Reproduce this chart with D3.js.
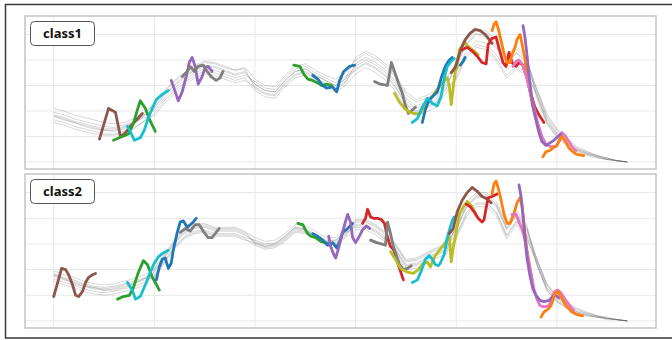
<!DOCTYPE html>
<html>
<head>
<meta charset="utf-8">
<script src="https://cdn.jsdelivr.net/npm/d3@7"></script>
<style>
  body { margin: 0; background: #fff; }
  text { font-family: "Noto Sans", "DejaVu Sans", sans-serif; }
</style>
</head>
<body>
<svg id="chart" width="672" height="340"></svg>
<script>
// Sample positions shared by every background series (one value every 10 steps).
const steps = d3.range(0, 580, 10);

// ---- class1 background series ----
const c1a = [0.36,0.34,0.31,0.29,0.27,0.25,0.25,0.27,0.30,0.36, 0.42,0.52,0.60,0.66,0.72,0.75,0.74,0.71,0.68,0.70, 0.61,0.56,0.55,0.64,0.71,0.73,0.68,0.64,0.60,0.65, 0.75,0.80,0.76,0.70,0.61,0.48,0.42,0.45,0.49,0.60, 0.75,0.92,1.00,0.98,0.89,0.78,0.85,0.78,0.53,0.32, 0.21,0.15,0.09,0.06,0.04,0.02,0.01,0.00];
const c1b = [0.42,0.40,0.37,0.35,0.33,0.31,0.30,0.31,0.34,0.39, 0.45,0.55,0.63,0.69,0.75,0.78,0.77,0.74,0.72,0.74, 0.65,0.60,0.59,0.68,0.75,0.77,0.72,0.68,0.65,0.70, 0.80,0.85,0.81,0.75,0.66,0.53,0.47,0.50,0.54,0.64, 0.78,0.95,1.03,1.01,0.92,0.81,0.88,0.81,0.56,0.35, 0.23,0.17,0.10,0.07,0.05,0.03,0.01,0.00];
const c1c = [0.39,0.37,0.34,0.32,0.30,0.28,0.27,0.29,0.32,0.37, 0.40,0.50,0.58,0.64,0.70,0.73,0.72,0.69,0.66,0.68, 0.63,0.58,0.57,0.66,0.73,0.75,0.70,0.66,0.62,0.67, 0.72,0.77,0.73,0.67,0.58,0.45,0.39,0.42,0.46,0.57, 0.80,0.97,1.04,1.03,0.94,0.84,0.90,0.83,0.50,0.30, 0.19,0.13,0.08,0.05,0.03,0.02,0.01,0.00];
const c1d = [0.36,0.33,0.31,0.28,0.26,0.25,0.24,0.26,0.30,0.37, 0.46,0.56,0.64,0.70,0.76,0.79,0.78,0.75,0.72,0.73, 0.58,0.53,0.52,0.61,0.68,0.70,0.65,0.61,0.57,0.62, 0.77,0.82,0.78,0.72,0.63,0.50,0.44,0.47,0.51,0.62, 0.70,0.87,0.95,0.93,0.84,0.72,0.80,0.73,0.57,0.36, 0.25,0.18,0.11,0.08,0.05,0.03,0.01,0.00];
const c1e = [0.33,0.31,0.28,0.26,0.24,0.22,0.22,0.24,0.27,0.32, 0.38,0.48,0.56,0.62,0.68,0.71,0.70,0.67,0.64,0.66, 0.56,0.51,0.50,0.59,0.66,0.68,0.63,0.59,0.55,0.60, 0.69,0.74,0.70,0.64,0.55,0.42,0.36,0.39,0.43,0.54, 0.67,0.84,0.92,0.90,0.81,0.68,0.75,0.70,0.52,0.31, 0.20,0.14,0.09,0.06,0.04,0.02,0.01,0.00];
const c1f = [0.31,0.29,0.26,0.24,0.22,0.21,0.21,0.23,0.26,0.32, 0.43,0.53,0.61,0.67,0.73,0.76,0.75,0.72,0.69,0.71, 0.61,0.56,0.55,0.64,0.71,0.73,0.68,0.64,0.60,0.65, 0.82,0.87,0.83,0.77,0.68,0.55,0.49,0.52,0.56,0.67, 0.76,0.93,1.01,0.99,0.90,0.79,0.86,0.79,0.58,0.38, 0.26,0.19,0.12,0.08,0.05,0.03,0.01,0.00];
const c1g = [0.37,0.35,0.32,0.30,0.28,0.26,0.26,0.28,0.31,0.35, 0.36,0.46,0.54,0.60,0.66,0.69,0.68,0.65,0.62,0.64, 0.59,0.54,0.53,0.62,0.69,0.71,0.66,0.62,0.58,0.63, 0.73,0.78,0.74,0.68,0.59,0.46,0.40,0.43,0.47,0.58, 0.65,0.82,0.90,0.88,0.79,0.66,0.73,0.68,0.54,0.33, 0.22,0.16,0.10,0.07,0.04,0.02,0.01,0.00];

// ---- class2 background series ----
const c2a = [0.35,0.32,0.30,0.27,0.25,0.24,0.25,0.27,0.29,0.32, 0.38,0.49,0.60,0.68,0.72,0.73,0.70,0.70,0.70,0.67, 0.62,0.59,0.60,0.65,0.72,0.71,0.67,0.62,0.62,0.68, 0.75,0.75,0.71,0.65,0.56,0.44,0.45,0.49,0.53,0.56, 0.71,0.88,0.96,0.96,0.89,0.71,0.82,0.71,0.45,0.25, 0.16,0.11,0.07,0.05,0.03,0.02,0.01,0.00];
const c2b = [0.39,0.36,0.34,0.31,0.29,0.28,0.29,0.31,0.33,0.36, 0.40,0.51,0.62,0.70,0.74,0.75,0.72,0.72,0.72,0.69, 0.65,0.62,0.63,0.68,0.75,0.74,0.70,0.65,0.65,0.71, 0.78,0.78,0.74,0.68,0.59,0.47,0.48,0.52,0.56,0.59, 0.73,0.90,0.98,0.98,0.91,0.73,0.84,0.73,0.48,0.28, 0.18,0.13,0.08,0.06,0.04,0.02,0.01,0.00];
const c2c = [0.37,0.34,0.32,0.29,0.27,0.26,0.27,0.29,0.31,0.34, 0.36,0.47,0.58,0.66,0.70,0.71,0.68,0.68,0.68,0.65, 0.63,0.60,0.61,0.66,0.73,0.72,0.68,0.63,0.63,0.69, 0.73,0.73,0.69,0.63,0.54,0.42,0.43,0.47,0.51,0.54, 0.75,0.92,1.00,1.00,0.93,0.75,0.86,0.75,0.44,0.24, 0.15,0.10,0.06,0.04,0.03,0.02,0.01,0.00];
const c2d = [0.36,0.33,0.29,0.27,0.26,0.24,0.24,0.26,0.29,0.33, 0.41,0.52,0.63,0.71,0.75,0.76,0.73,0.73,0.73,0.70, 0.60,0.57,0.58,0.63,0.70,0.69,0.65,0.60,0.60,0.66, 0.77,0.77,0.73,0.67,0.58,0.46,0.47,0.51,0.55,0.58, 0.67,0.84,0.92,0.92,0.85,0.67,0.78,0.67,0.48,0.28, 0.19,0.13,0.09,0.06,0.04,0.02,0.01,0.00];
const c2e = [0.33,0.30,0.28,0.25,0.23,0.22,0.23,0.25,0.27,0.30, 0.35,0.46,0.57,0.65,0.69,0.70,0.67,0.67,0.67,0.64, 0.59,0.56,0.57,0.62,0.69,0.68,0.64,0.59,0.59,0.65, 0.71,0.71,0.67,0.61,0.52,0.40,0.41,0.45,0.49,0.52, 0.66,0.83,0.91,0.91,0.84,0.66,0.77,0.66,0.44,0.24, 0.15,0.10,0.06,0.04,0.03,0.01,0.01,0.00];
const c2f = [0.31,0.28,0.26,0.23,0.21,0.20,0.21,0.23,0.25,0.28, 0.39,0.50,0.61,0.69,0.73,0.74,0.71,0.71,0.71,0.68, 0.61,0.58,0.60,0.66,0.73,0.71,0.66,0.62,0.63,0.69, 0.79,0.79,0.75,0.69,0.60,0.48,0.49,0.53,0.57,0.60, 0.72,0.89,0.97,0.97,0.90,0.72,0.83,0.72,0.49,0.29, 0.20,0.14,0.10,0.07,0.04,0.03,0.01,0.00];
const c2g = [0.36,0.33,0.31,0.28,0.26,0.25,0.26,0.28,0.30,0.33, 0.34,0.45,0.56,0.64,0.68,0.69,0.66,0.66,0.66,0.63, 0.61,0.58,0.59,0.64,0.71,0.70,0.66,0.61,0.61,0.67, 0.74,0.74,0.70,0.64,0.55,0.43,0.44,0.48,0.52,0.55, 0.64,0.81,0.89,0.89,0.82,0.64,0.75,0.64,0.46,0.26, 0.17,0.12,0.07,0.05,0.03,0.02,0.01,0.00];

const class1Series = [c1a, c1b, c1c, c1d, c1e, c1f, c1g];
const class2Series = [c2a, c2b, c2c, c2d, c2e, c2f, c2g];

// ---- highlighted sub-sequences: [position, value] pairs, coloured by group ----
const class1Motifs = [
  { group: 5, pts: [[45.5,0.18],[54.5,0.42],[61.4,0.39],[66.3,0.20],[70.3,0.22],[76.2,0.28],[82.2,0.33],[88.1,0.38]] },
  { group: 2, pts: [[59.4,0.17],[68.3,0.20],[74.3,0.22],[79.2,0.30],[83.2,0.41],[86.1,0.48],[91.1,0.42],[96,0.32],[101,0.24]] },
  { group: 9, pts: [[73.3,0.28],[77.2,0.22],[80.2,0.17],[86.1,0.19],[90.1,0.25],[94.1,0.35],[98,0.42],[102,0.49],[107.9,0.53],[113.9,0.56]] },
  { group: 4, pts: [[116.8,0.64],[120.8,0.55],[123.8,0.48],[127.7,0.55],[131.7,0.67],[134.7,0.78],[137.6,0.82],[140.6,0.75],[143.6,0.61],[147.5,0.67],[150.5,0.74],[153.5,0.75],[157.4,0.71]] },
  { group: 7, pts: [[127.7,0.67],[132.7,0.71],[135.6,0.75],[139.6,0.71],[143.6,0.75],[148.5,0.76],[152.5,0.71],[156.4,0.67],[161.4,0.64],[165.3,0.66],[168.3,0.71]] },
  { group: 2, pts: [[238.6,0.76],[244.6,0.75],[248.5,0.69],[252.5,0.65],[257.4,0.64],[262.4,0.62],[266.3,0.60],[271.3,0.61],[276.2,0.60]] },
  { group: 0, pts: [[257.4,0.68],[262.4,0.65],[267.3,0.60],[271.3,0.58],[277.2,0.59],[281.2,0.55],[284.2,0.64],[288.1,0.71],[294.1,0.75],[299,0.76]] },
  { group: 7, pts: [[318.8,0.63],[324.8,0.61],[331.7,0.60],[335.6,0.78],[338.6,0.71],[342.6,0.62],[346.5,0.54],[349.5,0.44],[352.5,0.38],[355.4,0.40],[359.4,0.43]] },
  { group: 8, pts: [[338.6,0.54],[343.6,0.47],[348.5,0.42],[353.5,0.39],[359.4,0.38],[364.4,0.38],[369.3,0.44],[375.2,0.50],[380.2,0.56],[386.1,0.62],[391.1,0.66],[393.1,0.60],[395,0.45],[397,0.58],[399,0.71],[401,0.75],[403,0.88],[407.9,0.94],[412.9,0.90],[417.8,0.87],[421.8,0.84]] },
  { group: 0, pts: [[366.3,0.31],[369.3,0.41],[373.3,0.49],[377.2,0.52],[381.2,0.55],[385.1,0.66],[389.1,0.75],[393.1,0.80],[396,0.82]] },
  { group: 9, pts: [[356.4,0.31],[361.4,0.34],[366.3,0.43],[371.3,0.50],[376.2,0.46],[381.2,0.44],[385.1,0.52],[388.1,0.66],[391.1,0.75],[395,0.79],[398,0.81]] },
  { group: 0, pts: [[404,0.76],[406.9,0.79],[408.9,0.82]] },
  { group: 5, pts: [[395,0.70],[399,0.74],[402,0.82],[405,0.89],[408.9,0.96],[413.9,1.01],[418.8,1.04],[423.8,1.03],[428.7,1.00],[432.7,0.96],[435.6,0.93]] },
  { group: 3, pts: [[405.9,0.88],[410.9,0.90],[415.8,0.87],[420.8,0.83],[425.7,0.78],[429.7,0.77],[431.7,0.92],[435.6,0.97],[439.6,0.98],[442.6,0.89],[446.5,0.78],[449.5,0.75],[452.5,0.86],[455.4,0.78],[459.4,0.75],[462.4,0.78],[466.3,0.76],[470.3,0.66],[474.3,0.53],[478.2,0.43],[482.2,0.37],[487.1,0.31]] },
  { group: 1, pts: [[435.6,1.03],[437.6,1.08],[439.6,1.10],[441.6,1.05],[444.6,0.95],[447.5,0.85],[450.5,0.78],[453.5,0.78],[455.4,0.84],[458.4,0.90],[460.4,0.96],[463.4,1.00],[465.3,0.93],[468.3,0.81],[470.3,0.67],[473.3,0.55],[476.2,0.43],[479.2,0.34]] },
  { group: 6, pts: [[456.4,0.75],[459.4,0.79],[462.4,0.80],[465.3,0.77],[469.3,0.68],[473.3,0.56],[477.2,0.43],[481.2,0.30],[485.1,0.20],[489.1,0.14],[494.1,0.12],[499,0.12],[503,0.17],[505,0.23],[507.9,0.21],[511.9,0.16],[515.8,0.11],[518.8,0.09]] },
  { group: 4, pts: [[466.3,1.07],[468.3,0.98],[470.3,0.84],[472.3,0.68],[474.3,0.55],[476.2,0.44],[479.2,0.33],[482.2,0.23],[485.1,0.16],[489.1,0.13],[493.1,0.15],[497,0.17],[501,0.20],[504,0.22]] },
  { group: 1, pts: [[486.1,0.04],[489.1,0.08],[493.1,0.09],[496,0.11],[500,0.13],[503,0.18],[505,0.20],[507.9,0.17],[511.9,0.11],[515.8,0.08],[519.8,0.06],[526.7,0.05]] }
];

const class2Motifs = [
  { group: 5, pts: [[0,0.19],[4,0.30],[7.9,0.41],[11.9,0.40],[14.9,0.36],[18.8,0.28],[21.8,0.20],[24.8,0.19],[28.7,0.23],[31.7,0.30],[34.7,0.34],[38.6,0.36],[41.6,0.37]] },
  { group: 2, pts: [[63.4,0.17],[69.3,0.19],[75.2,0.20],[79.2,0.26],[84.2,0.38],[89.1,0.47],[93.1,0.44],[98,0.34],[103,0.27],[105,0.24]] },
  { group: 9, pts: [[73.3,0.30],[78.2,0.24],[81.2,0.17],[86.1,0.19],[92.1,0.30],[96,0.38],[100,0.45],[104,0.50],[108.9,0.53],[113.9,0.55]] },
  { group: 0, pts: [[102,0.32],[105,0.42],[107.9,0.48],[110.9,0.49],[113.9,0.41],[116.8,0.45],[118.8,0.55],[122.8,0.69],[125.7,0.77],[128.7,0.78],[132.7,0.73],[135.6,0.75],[138.6,0.77],[141.6,0.80]] },
  { group: 7, pts: [[125.7,0.69],[130.7,0.72],[135.6,0.70],[140.6,0.75],[144.6,0.75],[149.5,0.69],[153.5,0.65],[157.4,0.65],[161.4,0.69],[164.4,0.72]] },
  { group: 2, pts: [[242.6,0.76],[247.5,0.75],[251.5,0.69],[255.4,0.66],[260.4,0.65],[265.3,0.62],[270.3,0.61],[275.2,0.59]] },
  { group: 0, pts: [[257.4,0.68],[262.4,0.66],[267.3,0.63],[272.3,0.59],[277.2,0.61],[281.2,0.57],[284.2,0.62],[287.1,0.69],[292.1,0.72],[297,0.76]] },
  { group: 4, pts: [[273.3,0.66],[275.2,0.58],[278.2,0.52],[280.2,0.49],[283.2,0.57],[286.1,0.66],[289.1,0.75],[292.1,0.83],[295,0.77],[297,0.65],[300,0.61],[303,0.65],[306.9,0.71],[310.9,0.74],[313.9,0.72]] },
  { group: 3, pts: [[306.9,0.76],[309.9,0.80],[311.9,0.87],[314.9,0.81],[317.8,0.80],[321.8,0.80],[325.7,0.79],[328.7,0.76],[331.7,0.65],[334.7,0.58],[337.6,0.56],[340.6,0.48],[343.6,0.41],[347.5,0.32]] },
  { group: 7, pts: [[314.9,0.63],[320.8,0.61],[325.7,0.60],[329.7,0.59],[331.7,0.77],[334.7,0.68],[337.6,0.58],[340.6,0.51],[343.6,0.44],[347.5,0.40],[351.5,0.41],[355.4,0.43]] },
  { group: 8, pts: [[334.7,0.54],[339.6,0.48],[344.6,0.41],[351.5,0.38],[357.4,0.37],[362.4,0.40],[366.3,0.44],[371.3,0.46],[374.3,0.42],[379.2,0.51],[385.1,0.57],[390.1,0.62],[393.1,0.66],[395,0.46],[397,0.57],[400,0.69],[403,0.83],[407.9,0.90],[410.9,0.93],[414.9,0.90],[417.8,0.86],[419.8,0.82]] },
  { group: 9, pts: [[356.4,0.30],[361.4,0.32],[365.3,0.39],[369.3,0.48],[373.3,0.51],[376.2,0.48],[379.2,0.44],[382.2,0.43],[384.2,0.45],[388.1,0.52],[391.1,0.65],[394.1,0.73],[396,0.78],[398,0.81]] },
  { group: 5, pts: [[393.1,0.68],[397,0.72],[401,0.85],[405.9,0.94],[410.9,1.00],[415.8,1.04],[420.8,1.01],[425.7,0.97],[430.7,0.95],[434.7,0.92]] },
  { group: 3, pts: [[409.9,0.91],[413.9,0.89],[417.8,0.85],[421.8,0.80],[425.7,0.77],[427.7,0.79],[429.7,0.88],[431.7,0.96],[435.6,0.97],[440.6,0.99]] },
  { group: 1, pts: [[435.6,0.99],[437.6,1.07],[439.6,1.09],[441.6,1.04],[444.6,0.94],[447.5,0.83],[450.5,0.76],[453.5,0.76],[457.4,0.84],[460.4,0.92],[463.4,0.96],[465.3,0.90],[467.3,0.75],[470.3,0.55],[473.3,0.41],[476.2,0.28]] },
  { group: 6, pts: [[455.4,0.83],[459.4,0.83],[462.4,0.77],[465.3,0.72],[468.3,0.63],[471.3,0.49],[474.3,0.37],[477.2,0.25],[480.2,0.17],[483.2,0.12],[487.1,0.11],[492.1,0.12],[495,0.18],[498,0.23],[501,0.24],[504,0.22],[508.9,0.16],[513.9,0.11],[516.8,0.08]] },
  { group: 4, pts: [[462.4,1.06],[464.4,0.97],[466.3,0.83],[468.3,0.65],[470.3,0.49],[473.3,0.35],[476.2,0.25],[479.2,0.20],[483.2,0.16],[487.1,0.15],[492.1,0.16],[496,0.19],[499,0.20],[502,0.18]] },
  { group: 1, pts: [[484.2,0.03],[487.1,0.07],[491.1,0.09],[494.1,0.12],[496,0.16],[498,0.21],[501,0.23],[504,0.19],[508.9,0.12],[514.9,0.07],[519.8,0.05],[525.7,0.04]] }
];

const panelNames = ["class1", "class2"];
const xTicks = [0, 100, 200, 300, 400, 500];
const yTicks = [0, 0.2, 0.4, 0.6, 0.8, 1.0];

const palette = d3.schemeCategory10;
const svg = d3.select("#chart");

// outer frame
svg.append("rect")
  .attr("x", 5.5).attr("y", 4.5)
  .attr("width", 700).attr("height", 333.5)
  .attr("fill", "none").attr("stroke", "#3a3a3a").attr("stroke-width", 1.5);

const panels = [
  { name: panelNames[0], top: 16, bottom: 169, series: class1Series, motifs: class1Motifs },
  { name: panelNames[1], top: 174, bottom: 328, series: class2Series, motifs: class2Motifs }
];

const x = d3.scaleLinear().domain([-28.5, 598.5]).range([25, 656]);

panels.forEach((p, idx) => {
  const y = d3.scaleLinear().domain([-0.055, 1.145]).range([p.bottom, p.top]);
  const g = svg.append("g");

  g.append("clipPath").attr("id", "clip" + idx)
    .append("rect").attr("x", 25).attr("y", p.top).attr("width", 631).attr("height", p.bottom - p.top);

  // grid
  g.append("g").selectAll("line").data(xTicks).join("line")
    .attr("x1", d => x(d)).attr("x2", d => x(d))
    .attr("y1", p.top).attr("y2", p.bottom)
    .attr("stroke", "#e8e8e8").attr("stroke-width", 1);
  g.append("g").selectAll("line").data(yTicks).join("line")
    .attr("x1", 25).attr("x2", 656)
    .attr("y1", d => y(d)).attr("y2", d => y(d))
    .attr("stroke", "#e8e8e8").attr("stroke-width", 1);

  const plot = g.append("g").attr("clip-path", `url(#clip${idx})`);

  // background series
  const bgLine = d3.line().x((d, i) => x(steps[i])).y(d => y(d));
  plot.append("g").selectAll("path").data(p.series).join("path")
    .attr("d", bgLine)
    .attr("fill", "none")
    .attr("stroke", "#4a4a4a")
    .attr("stroke-opacity", 0.28)
    .attr("stroke-width", 0.8)
    .attr("stroke-linejoin", "round");

  // highlighted sub-sequences
  const segLine = d3.line().x(d => x(d[0])).y(d => y(d[1]));
  plot.append("g").selectAll("path").data(p.motifs).join("path")
    .attr("d", d => segLine(d.pts))
    .attr("fill", "none")
    .attr("stroke", d => palette[d.group])
    .attr("stroke-width", 2.8)
    .attr("stroke-linejoin", "round")
    .attr("stroke-linecap", "round");

  // panel border
  g.append("rect")
    .attr("x", 25).attr("y", p.top)
    .attr("width", 631).attr("height", p.bottom - p.top)
    .attr("fill", "none").attr("stroke", "#c4c4c4").attr("stroke-width", 1.5);

  // strip label
  g.append("rect")
    .attr("x", 30.5).attr("y", p.top + 5.5)
    .attr("width", 64).attr("height", 24).attr("rx", 4)
    .attr("fill", "#fff").attr("stroke", "#555").attr("stroke-width", 1);
  g.append("text")
    .attr("x", 62.5).attr("y", p.top + 17.5)
    .attr("dy", "0.35em")
    .attr("text-anchor", "middle")
    .attr("font-size", 13)
    .attr("font-weight", "bold")
    .attr("fill", "#111")
    .text(p.name);
});
</script>
</body>
</html>
